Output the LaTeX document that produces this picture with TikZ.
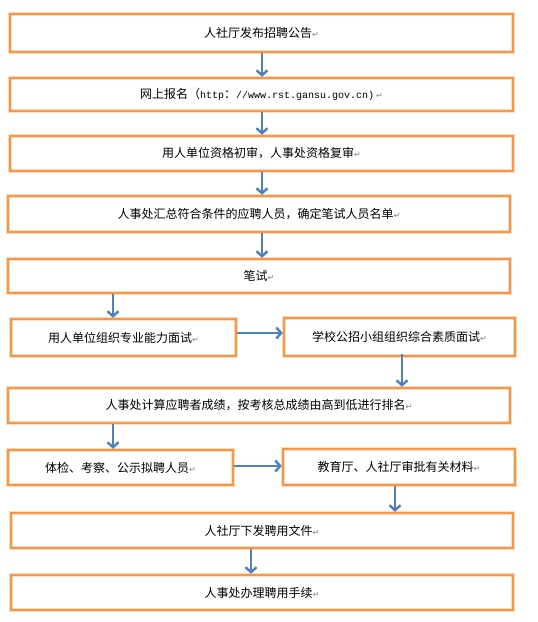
\documentclass[tikz,border=0pt]{standalone}
\usepackage{fontspec}
\setmainfont{Noto Sans CJK SC}
\newfontfamily\symf{DejaVu Sans}
\newfontfamily\monof{Liberation Mono}
\usetikzlibrary{arrows.meta}
\definecolor{boxorange}{HTML}{F79646}
\definecolor{arrblue}{HTML}{4F81BD}
\newcommand{\parmk}{{\color{gray}\symf\fontsize{8pt}{8pt}\selectfont ↵}}
\tikzset{
  box/.style={draw=boxorange, line width=2.3pt, rectangle, inner sep=0pt,
    preaction={draw=boxorange!35, line width=4pt},
    font=\fontsize{12pt}{14pt}\selectfont, text=black},
  arr/.style={draw=arrblue, line width=2.4pt,
    -{Straight Barb[length=5pt,width=11pt,line width=2.4pt]}}
}
\begin{document}
\begin{tikzpicture}[x=1pt,y=-1pt]
\useasboundingbox (0,0) rectangle (538,622);
\node[box, minimum width=503pt, minimum height=38pt] (n1) at (261.5,33) {人社厅发布招聘公告\parmk};
\node[box, minimum width=503pt, minimum height=33pt] (n2) at (261.5,94.5) {网上报名（{\monof\fontsize{10pt}{12pt}\selectfont http}：{\monof\fontsize{10pt}{12pt}\selectfont //www.rst.gansu.gov.cn)}\,\parmk};
\node[box, minimum width=503pt, minimum height=35pt] (n3) at (261.5,153.5) {用人单位资格初审，人事处资格复审\parmk};
\node[box, minimum width=502pt, minimum height=36pt] (n4) at (259,214) {人事处汇总符合条件的应聘人员，确定笔试人员名单\parmk};
\node[box, minimum width=502pt, minimum height=34pt] (n5) at (259,276) {笔试\parmk};
\node[box, minimum width=225pt, minimum height=37pt] (n6l) at (123.5,337.5) {用人单位组织专业能力面试\parmk};
\node[box, minimum width=231pt, minimum height=38pt] (n6r) at (399.5,337) {学校公招小组组织综合素质面试\parmk};
\node[box, minimum width=502pt, minimum height=35pt] (n7) at (259,405.5) {人事处计算应聘者成绩，按考核总成绩由高到低进行排名\parmk};
\node[box, minimum width=225pt, minimum height=35pt] (n8l) at (120.5,467.5) {体检、考察、公示拟聘人员\parmk};
\node[box, minimum width=232pt, minimum height=36pt] (n8r) at (399,467) {教育厅、人社厅审批有关材料\parmk};
\node[box, minimum width=502pt, minimum height=35pt] (n9) at (262,530.5) {人社厅下发聘用文件\parmk};
\node[box, minimum width=502pt, minimum height=35pt] (n10) at (262,592.5) {人事处办理聘用手续\parmk};
\coordinate (xa) at (262,0);
\coordinate (xb) at (113,0);
\coordinate (xc) at (402,0);
\coordinate (xd) at (395,0);
\coordinate (xe) at (251,0);
\coordinate (ya) at (0,333);
\coordinate (yb) at (0,466);
\draw[arr] (n1.south -| xa) -- (n2.north -| xa);
\draw[arr] (n2.south -| xa) -- (n3.north -| xa);
\draw[arr] (n3.south -| xa) -- (n4.north -| xa);
\draw[arr] (n4.south -| xa) -- (n5.north -| xa);
\draw[arr] (n5.south -| xb) -- (n6l.north -| xb);
\draw[arr] (n6l.east |- ya) -- (n6r.west |- ya);
\draw[arr] ([yshift=3pt]n6r.south -| xc) -- (n7.north -| xc);
\draw[arr] (n7.south -| xb) -- (n8l.north -| xb);
\draw[arr] (n8l.east |- yb) -- (n8r.west |- yb);
\draw[arr] (n8r.south -| xd) -- (n9.north -| xd);
\draw[arr] (n9.south -| xe) -- (n10.north -| xe);
\end{tikzpicture}
\end{document}
